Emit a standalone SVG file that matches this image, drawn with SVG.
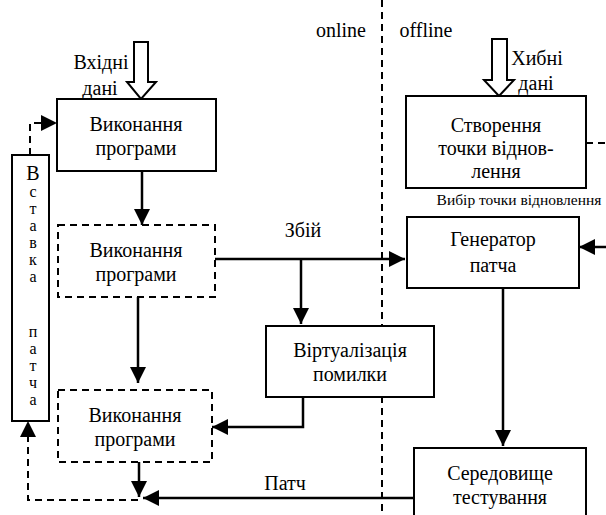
<svg xmlns="http://www.w3.org/2000/svg" width="606" height="515" viewBox="0 0 606 515">
<style>
text{font-family:"Liberation Serif","DejaVu Serif",serif;fill:#000}
.t{font-size:20px;text-anchor:middle}
.s{font-size:15.5px;text-anchor:middle}
.v{font-size:16px;text-anchor:middle}
.box{fill:#fff;stroke:#000;stroke-width:2}
.dbox{fill:#fff;stroke:#000;stroke-width:2;stroke-dasharray:7 5}
.ln{fill:none;stroke:#000;stroke-width:2.5}
.dl{fill:none;stroke:#000;stroke-width:2;stroke-dasharray:7 5}
.hol{fill:#fff;stroke:#000;stroke-width:2}
</style>
<defs>
<marker id="a" viewBox="0 0 16 16" refX="16" refY="8" markerWidth="16" markerHeight="16" markerUnits="userSpaceOnUse" orient="auto">
<path d="M0,0 L16,8 L0,16 z" fill="#000"/>
</marker>
</defs>
<g id="divider">
<line x1="382" y1="0" x2="382" y2="515" class="dl"/>
<text x="341" y="37" class="t">online</text>
<text x="426" y="37" class="t">offline</text>
</g>
<g id="input1">
<path d="M134,42 H148 V82 H156 L141,99 L127,82 H134 Z" class="hol"/>
<text x="101" y="69" class="t">Вхідні</text>
<text x="100" y="95" class="t">дані</text>
</g>
<g id="input2">
<path d="M492,39 H507 V80 H514 L499,96 L484,80 H492 Z" class="hol"/>
<text x="537" y="65" class="t">Хибні</text>
<text x="536" y="90" class="t">дані</text>
</g>
<g id="connectors">
<line x1="142" y1="171" x2="142" y2="225" class="ln" marker-end="url(#a)"/>
<line x1="138" y1="297" x2="138" y2="383" class="ln" marker-end="url(#a)"/>
<line x1="139" y1="462" x2="139" y2="497" class="ln" marker-end="url(#a)"/>
<line x1="215" y1="259" x2="405" y2="259" class="ln" marker-end="url(#a)"/>
<line x1="301" y1="259" x2="301" y2="324" class="ln" marker-end="url(#a)"/>
<polyline points="303,397 303,427 212,427" class="ln" marker-end="url(#a)"/>
<line x1="503" y1="288" x2="503" y2="446" class="ln" marker-end="url(#a)"/>
<line x1="414" y1="498" x2="143" y2="498" class="ln" marker-end="url(#a)"/>
<line x1="606" y1="247" x2="579" y2="247" class="ln" marker-end="url(#a)"/>
<line x1="586" y1="143" x2="606" y2="143" class="dl"/>
<polyline points="30,155 30,123 57,123" class="dl" marker-end="url(#a)"/>
<polyline points="138,500 28,500 28,421" class="dl" marker-end="url(#a)"/>
<text x="285" y="490" class="t">Патч</text>
<text x="303" y="237" class="t">Збій</text>
<text x="519" y="205" class="s">Вибір точки відновлення</text>
</g>
<g id="exec1">
<rect x="57" y="99" width="159" height="72" class="box"/>
<text x="136" y="131" class="t">Виконання</text>
<text x="136" y="155" class="t">програми</text>
</g>
<g id="exec2">
<rect x="58" y="225" width="157" height="72" class="dbox"/>
<text x="136" y="257" class="t">Виконання</text>
<text x="136" y="281" class="t">програми</text>
</g>
<g id="exec3">
<rect x="58" y="390" width="154" height="72" class="dbox"/>
<text x="135" y="422" class="t">Виконання</text>
<text x="135" y="446" class="t">програми</text>
</g>
<g id="virt">
<rect x="266" y="326" width="168" height="71" class="box"/>
<text x="350" y="357" class="t">Віртуалізація</text>
<text x="350" y="381" class="t">помилки</text>
</g>
<g id="restore">
<rect x="406" y="96" width="180" height="92" class="box"/>
<text x="496" y="132" class="t">Створення</text>
<text x="496" y="155" class="t">точки віднов-</text>
<text x="496" y="178" class="t">лення</text>
</g>
<g id="generator">
<rect x="407" y="217" width="172" height="71" class="box"/>
<text x="493" y="246" class="t">Генератор</text>
<text x="493" y="272" class="t">патча</text>
</g>
<g id="testenv">
<rect x="414" y="448" width="172" height="80" class="box"/>
<text x="500" y="480" class="t">Середовище</text>
<text x="500" y="504" class="t">тестування</text>
</g>
<g id="insert">
<rect x="12" y="155" width="37" height="266" class="box"/>
<text x="33" y="180" style="font-size:20px;text-anchor:middle">В</text>
<text x="33" y="197" class="v">с</text>
<text x="33" y="214" class="v">т</text>
<text x="33" y="231" class="v">а</text>
<text x="33" y="248" class="v">в</text>
<text x="33" y="265" class="v">к</text>
<text x="33" y="282" class="v">а</text>
<text x="33" y="337" class="v">п</text>
<text x="33" y="354" class="v">а</text>
<text x="33" y="371" class="v">т</text>
<text x="33" y="388" class="v">ч</text>
<text x="33" y="405" class="v">а</text>
</g>
</svg>
